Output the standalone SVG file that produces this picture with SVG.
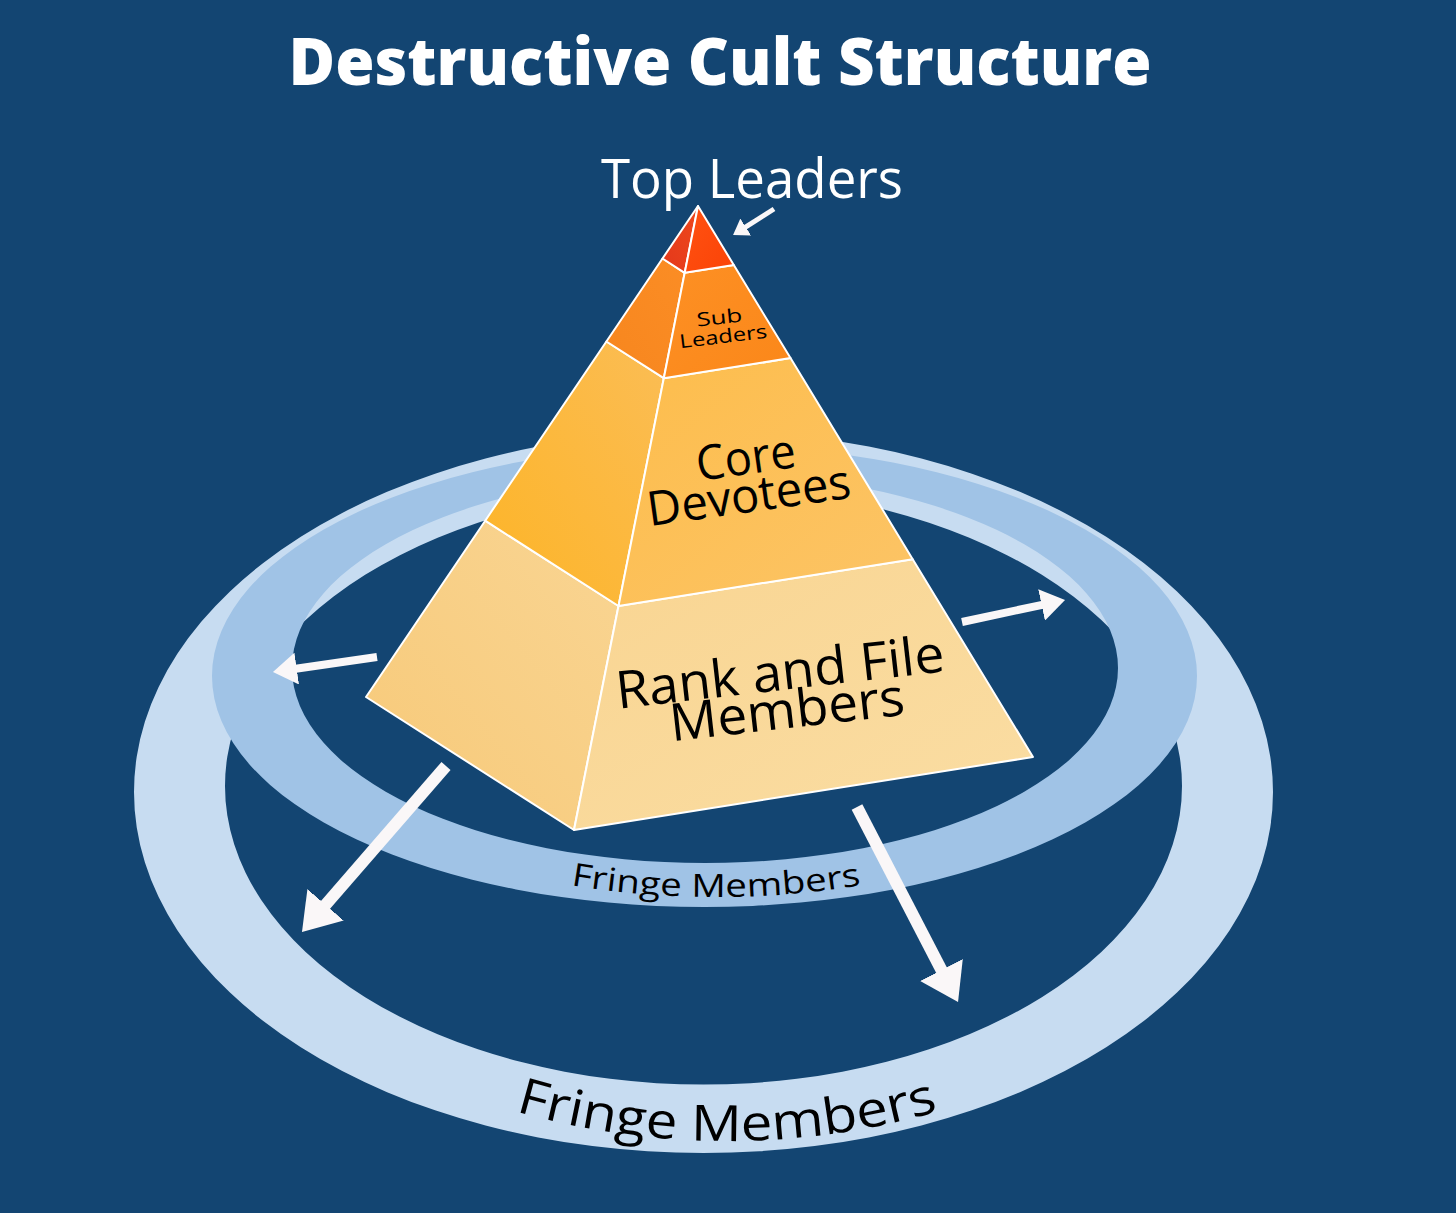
<svg xmlns="http://www.w3.org/2000/svg" width="1456" height="1213" viewBox="0 0 1456 1213">
  <style>
    .face { stroke: #ffffff; stroke-width: 2; stroke-linejoin: round; }
    .lbl { font-family: "Open Sans", "Liberation Sans", sans-serif; fill: #000000; text-anchor: middle; font-weight: 500; }
    .wlbl { font-family: "Open Sans", "Liberation Sans", sans-serif; fill: #ffffff; text-anchor: middle; }
    .arrow { stroke: #faf7f8; fill: none; stroke-linecap: butt; marker-end: url(#head); }
  </style>
  <defs>
    <marker id="head" viewBox="0 0 3 4" markerWidth="3" markerHeight="4" refX="1" refY="2" orient="auto" markerUnits="strokeWidth">
      <path d="M0,0 L3,2 L0,4 z" fill="#faf7f8"/>
    </marker>
    <linearGradient id="gTopL" x1="0" y1="1" x2="1" y2="0"><stop offset="0" stop-color="#e4381b"/><stop offset="1" stop-color="#ee481c"/></linearGradient>
    <linearGradient id="gTopR" x1="0" y1="0" x2="1" y2="1"><stop offset="0" stop-color="#ff5212"/><stop offset="1" stop-color="#fb4307"/></linearGradient>
    <linearGradient id="gSubL" x1="0" y1="1" x2="1" y2="0"><stop offset="0" stop-color="#f7861e"/><stop offset="1" stop-color="#fb8d25"/></linearGradient>
    <linearGradient id="gSubR" x1="0" y1="0" x2="1" y2="1"><stop offset="0" stop-color="#fd9024"/><stop offset="1" stop-color="#fb8719"/></linearGradient>
    <linearGradient id="gCoreL" x1="0" y1="1" x2="1" y2="0"><stop offset="0" stop-color="#fdb426"/><stop offset="1" stop-color="#fbbd55"/></linearGradient>
    <linearGradient id="gCoreR" x1="0" y1="0" x2="1" y2="1"><stop offset="0" stop-color="#fdbd4c"/><stop offset="1" stop-color="#fcc466"/></linearGradient>
    <linearGradient id="gRankL" x1="0" y1="1" x2="1" y2="0"><stop offset="0" stop-color="#f7c978"/><stop offset="1" stop-color="#f9d593"/></linearGradient>
    <linearGradient id="gRankR" x1="0" y1="0" x2="1" y2="1"><stop offset="0" stop-color="#f9d592"/><stop offset="1" stop-color="#fadda3"/></linearGradient>
    <path id="fpInner" d="M263,672 A453,225 0 0 0 1169,672"/>
    <path id="fpOuter" d="M203,789 A524,352 0 0 0 1251,789"/>
  </defs>

  <rect x="0" y="0" width="1456" height="1213" fill="#134572"/>

  <g id="title">
    <text class="wlbl" x="720" y="85" font-size="66" font-weight="800" textLength="863" lengthAdjust="spacingAndGlyphs">Destructive Cult Structure</text>
  </g>

  <g id="fringe-outer">
    <path fill="#c7dcf1" fill-rule="evenodd" d="M134,792 a569.5,361 0 1,0 1139,0 a569.5,361 0 1,0 -1139,0 z M225,786 a478.5,298.6 0 1,0 957,0 a478.5,298.6 0 1,0 -957,0 z"/>
    <text class="lbl" font-size="50"><textPath href="#fpOuter" startOffset="50%" textLength="429" lengthAdjust="spacingAndGlyphs">Fringe Members</textPath></text>
  </g>

  <g id="fringe-inner">
    <path fill="#a0c3e6" fill-rule="evenodd" d="M212,676 a492.5,231 0 1,0 985,0 a492.5,231 0 1,0 -985,0 z M292,668 a413,195 0 1,0 826,0 a413,195 0 1,0 -826,0 z"/>
    <text class="lbl" font-size="32"><textPath href="#fpInner" startOffset="50%" textLength="292" lengthAdjust="spacingAndGlyphs">Fringe Members</textPath></text>
  </g>

  <g id="rank-and-file">
    <polygon class="face" fill="url(#gRankL)" points="485.2,520.7 366,697 574,830 618.5,606"/>
    <polygon class="face" fill="url(#gRankR)" points="618.5,606 574,830 1033,757 912.7,559.2"/>
    <text class="lbl" font-size="52" x="782" y="690" transform="rotate(-6.5 782 690)" textLength="330" lengthAdjust="spacingAndGlyphs">Rank and File</text>
    <text class="lbl" font-size="52" x="789" y="728" transform="rotate(-6.5 789 728)" textLength="236" lengthAdjust="spacingAndGlyphs">Members</text>
  </g>

  <g id="core-devotees">
    <polygon class="face" fill="url(#gCoreL)" points="606.4,341.5 485.2,520.7 618.5,606 663.8,378.2"/>
    <polygon class="face" fill="url(#gCoreR)" points="663.8,378.2 618.5,606 912.7,559.2 790.5,358.1"/>
    <text class="lbl" font-size="48" x="748" y="474" transform="rotate(-8 748 474)" textLength="100" lengthAdjust="spacingAndGlyphs">Core</text>
    <text class="lbl" font-size="48" x="751" y="512" transform="rotate(-8 751 512)" textLength="205" lengthAdjust="spacingAndGlyphs">Devotees</text>
  </g>

  <g id="sub-leaders">
    <polygon class="face" fill="url(#gSubL)" points="662.5,258.5 606.4,341.5 663.8,378.2 684.7,272.8"/>
    <polygon class="face" fill="url(#gSubR)" points="684.7,272.8 663.8,378.2 790.5,358.1 733.8,265"/>
    <text class="lbl" font-size="19" x="720" y="324" transform="rotate(-6 720 324)" textLength="46" lengthAdjust="spacingAndGlyphs">Sub</text>
    <text class="lbl" font-size="19" x="724" y="343" transform="rotate(-7 724 343)" textLength="88" lengthAdjust="spacingAndGlyphs">Leaders</text>
  </g>

  <g id="top-leaders">
    <polygon class="face" fill="url(#gTopL)" points="698,206 662.5,258.5 684.7,272.8"/>
    <polygon class="face" fill="url(#gTopR)" points="698,206 684.7,272.8 733.8,265"/>
    <text class="wlbl" font-size="55" x="752" y="198" textLength="302" lengthAdjust="spacingAndGlyphs">Top Leaders</text>
  </g>

  <g id="connectors">
    <line class="arrow" stroke-width="5" x1="774" y1="209" x2="741.5" y2="229.7"/>
    <line class="arrow" stroke-width="8" x1="377" y1="657" x2="288.8" y2="669.7"/>
    <line class="arrow" stroke-width="8" x1="962" y1="622" x2="1049.4" y2="603.3"/>
    <line class="arrow" stroke-width="12" x1="446" y1="766" x2="317.7" y2="913.9"/>
    <line class="arrow" stroke-width="12" x1="857" y1="807" x2="947" y2="980.7"/>
  </g>
</svg>
